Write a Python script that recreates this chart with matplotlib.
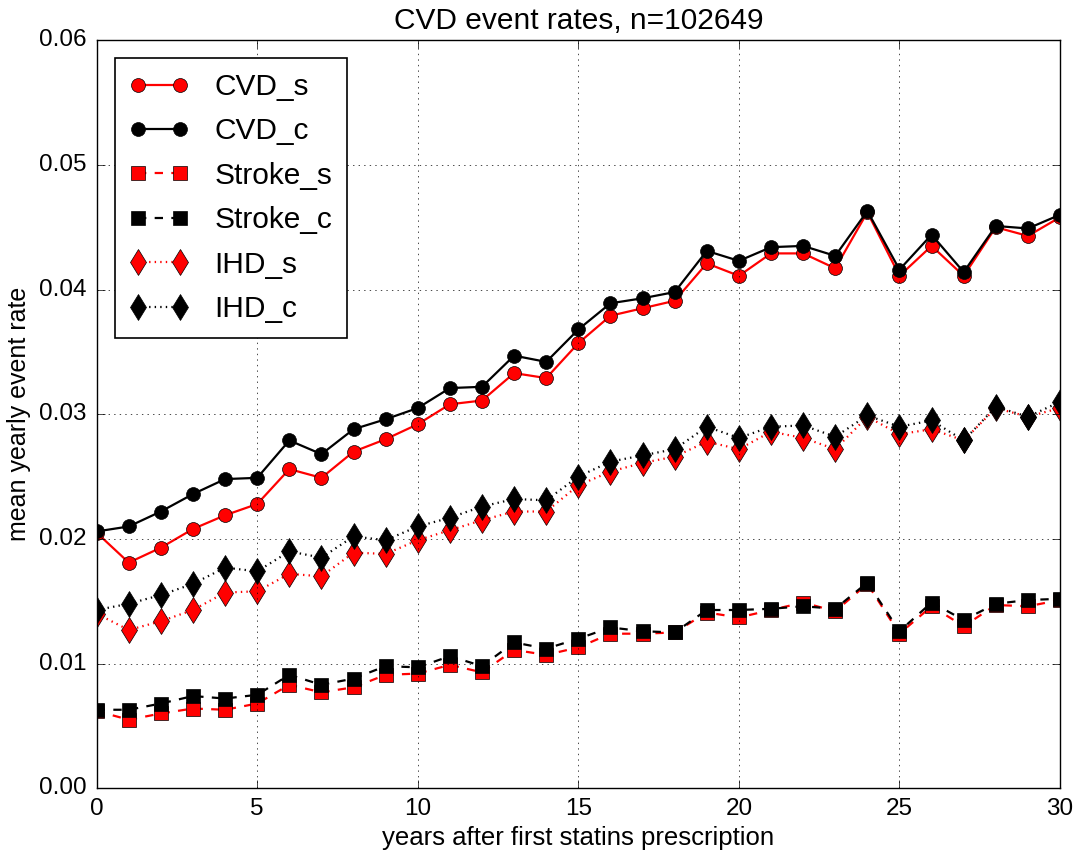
import numpy as np
import matplotlib
matplotlib.use('Agg')
import matplotlib.pyplot as plt

# values
years = np.arange(0, 31)

cvd_s = [0.0205, 0.0181, 0.0193, 0.0208, 0.0219, 0.0228, 0.0256, 0.0249, 0.0270, 0.0280,
         0.0292, 0.0308, 0.0311, 0.0333, 0.0329, 0.0357, 0.0379, 0.0385, 0.0391, 0.0421,
         0.0411, 0.0429, 0.0429, 0.0417, 0.0462, 0.0411, 0.0435, 0.0411, 0.0450, 0.0443,
         0.0458]
cvd_c = [0.0206, 0.0210, 0.0222, 0.0236, 0.0248, 0.0249, 0.0279, 0.0268, 0.0288, 0.0296,
         0.0305, 0.0321, 0.0322, 0.0347, 0.0342, 0.0368, 0.0389, 0.0393, 0.0398, 0.0431,
         0.0423, 0.0434, 0.0435, 0.0427, 0.0463, 0.0416, 0.0444, 0.0414, 0.0451, 0.0449,
         0.0460]
stroke_s = [0.0062, 0.0055, 0.0060, 0.0064, 0.0063, 0.0068, 0.0083, 0.0077, 0.0081, 0.0091,
            0.0092, 0.0099, 0.0093, 0.0111, 0.0107, 0.0113, 0.0124, 0.0124, 0.0125, 0.0141,
            0.0137, 0.0143, 0.0149, 0.0142, 0.0164, 0.0124, 0.0146, 0.0130, 0.0147, 0.0146,
            0.0151]
stroke_c = [0.0063, 0.0063, 0.0068, 0.0074, 0.0072, 0.0075, 0.0091, 0.0083, 0.0088, 0.0098,
            0.0097, 0.0106, 0.0098, 0.0117, 0.0112, 0.0120, 0.0129, 0.0126, 0.0125, 0.0143,
            0.0143, 0.0144, 0.0146, 0.0144, 0.0165, 0.0126, 0.0149, 0.0135, 0.0148, 0.0151,
            0.0152]
ihd_s = [0.0140, 0.0127, 0.0134, 0.0143, 0.0157, 0.0158, 0.0172, 0.0170, 0.0189, 0.0188,
         0.0199, 0.0207, 0.0215, 0.0222, 0.0222, 0.0243, 0.0254, 0.0261, 0.0266, 0.0278,
         0.0272, 0.0286, 0.0281, 0.0272, 0.0298, 0.0284, 0.0288, 0.0279, 0.0305, 0.0298,
         0.0305]
ihd_c = [0.0143, 0.0148, 0.0155, 0.0164, 0.0177, 0.0174, 0.0190, 0.0185, 0.0202, 0.0199,
         0.0210, 0.0217, 0.0226, 0.0232, 0.0231, 0.0250, 0.0262, 0.0267, 0.0272, 0.0290,
         0.0281, 0.0290, 0.0291, 0.0282, 0.0299, 0.0290, 0.0295, 0.0279, 0.0306, 0.0298,
         0.0310]

plt.style.use('classic')
plt.rcParams['font.family'] = ['Liberation Sans', 'DejaVu Sans']
plt.rcParams['font.size'] = 17.5

fig = plt.figure(figsize=(10.74, 8.55), dpi=100)
ax = fig.add_axes([0.090, 0.078, 0.897, 0.875])

lw = 1.6
ms = 10
ax.plot(years, cvd_s, 'r-', marker='o', ms=ms, mec='k', lw=lw, label='CVD_s')
ax.plot(years, cvd_c, 'k-', marker='o', ms=ms, mec='k', lw=lw, label='CVD_c')
ax.plot(years, stroke_s, 'r--', marker='s', ms=ms, mec='k', lw=lw, label='Stroke_s')
ax.plot(years, stroke_c, 'k--', marker='s', ms=ms, mec='k', lw=lw, label='Stroke_c')
ax.plot(years, ihd_s, 'r:', marker='d', ms=ms + 3, mec='k', lw=lw, label='IHD_s')
ax.plot(years, ihd_c, 'k:', marker='d', ms=ms + 3, mec='k', lw=lw, label='IHD_c')

ax.set_xlim(0, 30)
ax.set_ylim(0, 0.06)
ax.set_xticks(np.arange(0, 31, 5))
ax.set_yticks(np.arange(0, 0.061, 0.01))
ax.set_yticklabels(['%.2f' % v for v in np.arange(0, 0.061, 0.01)])
ax.grid(True)
ax.tick_params(axis='both', which='major', labelsize=17.5, pad=7, length=6)

ax.set_title('CVD event rates, n=102649', fontsize=21.5, y=1.005)
ax.set_xlabel('years after first statins prescription', fontsize=18.5, labelpad=4)
ax.set_ylabel('mean yearly event rate', fontsize=18, labelpad=6)

leg = ax.legend(loc='upper left', numpoints=2, fontsize=21.5, handlelength=2.0,
                handletextpad=0.85, labelspacing=0.55, borderaxespad=0.6,
                borderpad=0.5)
leg.get_frame().set_linewidth(1.2)

fig.savefig('out.png', dpi=100)
